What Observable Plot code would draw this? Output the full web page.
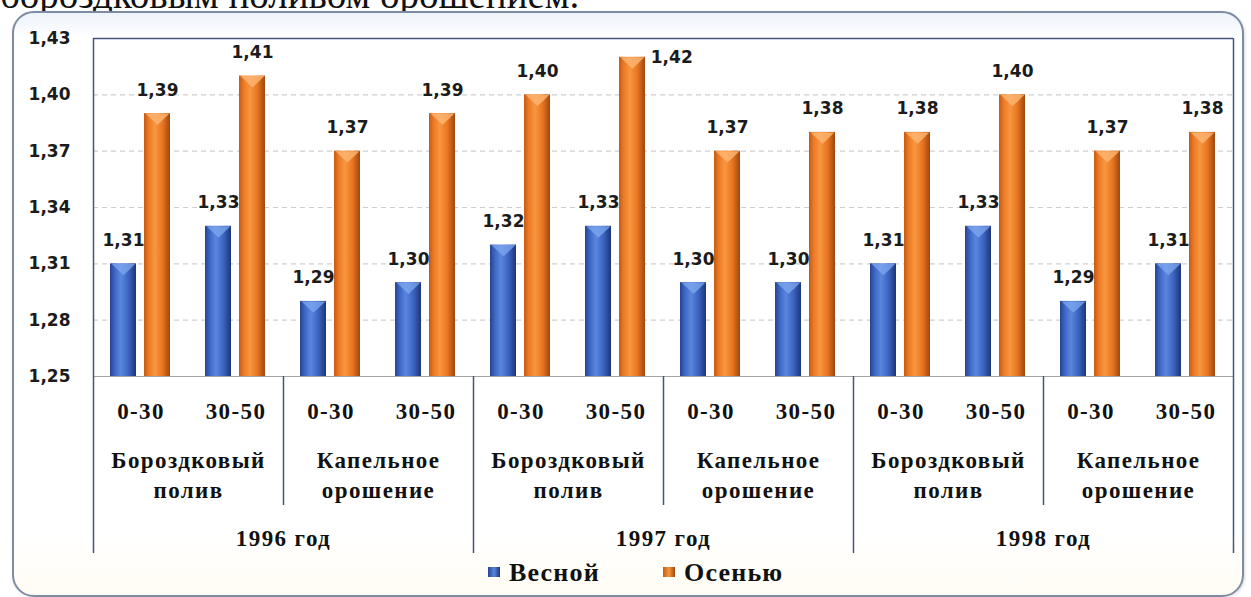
<!DOCTYPE html>
<html>
<head>
<meta charset="utf-8">
<script src="https://cdn.jsdelivr.net/npm/d3@7"></script>
<script src="https://cdn.jsdelivr.net/npm/@observablehq/plot@0.6"></script>
<style>
  html, body { margin: 0; padding: 0; background: #ffffff; }
  #page { position: relative; width: 1251px; height: 597px; overflow: hidden; background: #ffffff; }
  #toptext { position: absolute; left: 0; top: -25px; font-family: "Liberation Serif", "Times New Roman", Tinos, "DejaVu Serif", serif; font-size: 39px; line-height: 39px; color: #111; white-space: nowrap; }
  #box { position: absolute; left: 12px; top: 11px; width: 1228px; height: 582px; border: 2px solid #7d8ba3; border-radius: 22px;
         background: linear-gradient(#eef4fb 0px, #ffffff 26px, #ffffff 520px, #fffcf0 597px); box-shadow: 1px 1px 3px rgba(0,0,0,0.15); }
  #chart { position: absolute; left: 0; top: 0; }
  #legend { position: absolute; left: 0; top: 560px; width: 1251px; height: 30px; font-family: "Liberation Serif", "Times New Roman", Tinos, "DejaVu Serif", serif; font-weight: bold; font-size: 26px; line-height: 26px; color: #111; letter-spacing: 1.2px; }
  #legend .sw { display: inline-block; width: 12px; height: 10px; margin-right: 9px; margin-top: 7px; }
  #legend .item { position: absolute; top: 0; display: flex; align-items: flex-start; }
  g[font-family*="Serif"] text { letter-spacing: 1.4px; }
</style>
</head>
<body>
<div id="page">
  <div id="toptext">бороздковым поливом орошением.</div>
  <div id="box"></div>
  <div id="chart"></div>
  <div id="legend"></div>
</div>
<script>
// ---- data ----
const years = ["1996 год", "1997 год", "1998 год"];
const methods = ["Бороздковый\nполив", "Капельное\nорошение"];
const depths = ["0-30", "30-50"];
const seasons = ["Весной", "Осенью"];
const spring = [1.31, 1.33, 1.29, 1.30, 1.32, 1.33, 1.30, 1.30, 1.31, 1.33, 1.29, 1.31];
const autumn = [1.39, 1.41, 1.37, 1.39, 1.40, 1.42, 1.37, 1.38, 1.38, 1.40, 1.37, 1.38];
const yTicks = [1.25, 1.28, 1.31, 1.34, 1.37, 1.40, 1.43];

// ---- derived table ----
const rows = spring.map((v, i) => ({
  idx: i,
  year: years[Math.floor(i / (methods.length * depths.length))],
  method: methods[Math.floor(i / depths.length) % methods.length],
  depth: depths[i % depths.length],
  spring: v,
  autumn: autumn[i]
}));
const n = rows.length;
function groups(key) {
  const out = [];
  rows.forEach(r => {
    const k = key(r);
    const last = out[out.length - 1];
    if (last && last.key === k) last.end = r.idx + 1;
    else out.push({key: k, label: k.split("|").pop(), start: r.idx, end: r.idx + 1});
  });
  return out;
}
const methodGroups = groups(r => r.year + "|" + r.method);
const yearGroups = groups(r => r.year);
const methodBounds = methodGroups.map(g => g.start).filter(s => !yearGroups.some(y => y.start === s));
const yearBounds = yearGroups.map(g => g.start).filter(s => s > 0);

const fmt = v => d3.format(".2f")(v).replace(".", ",");
const yDom = [yTicks[0], yTicks[yTicks.length - 1]];
const yTop = yDom[1];

// ---- layout ----
const W = 1251, H = 560, mL = 93, mR = 18, mT = 38, mB = 184;
const frameH = H - mT - mB;

const serif = {fontFamily: "'Liberation Serif', 'Times New Roman', Tinos, 'DejaVu Serif', serif", fontWeight: "bold", fontSize: 23, fill: "#111"};
const sans = {fontFamily: "DejaVu Sans", fontWeight: "bold", fontSize: 17, fill: "#1b1b1b"};

const vSymbol = {draw(ctx, size) { const r = Math.sqrt(size / Math.PI); ctx.moveTo(-r, 0); ctx.lineTo(r, 0); ctx.lineTo(0, r * 0.95); ctx.closePath(); }};

const fits = v => yTop - v > 0.015;

const chart = Plot.plot({
  width: W, height: H, marginLeft: mL, marginRight: mR, marginTop: mT, marginBottom: mB,
  style: {background: "transparent", overflow: "visible"},
  x: {domain: [0, n], axis: null},
  y: {domain: yDom, axis: null},
  marks: [
    Plot.ruleY(yTicks.slice(1, -1), {stroke: "#cfcfcf", strokeWidth: 1.2, strokeDasharray: "5,4"}),
    // bars
    Plot.rectY(rows, {x1: d => d.idx, x2: d => d.idx + 0.5, y1: () => yDom[0], y2: "spring", fill: "url(#gBlue)", insetLeft: 17, insetRight: 4.5}),
    Plot.rectY(rows, {x1: d => d.idx + 0.5, x2: d => d.idx + 1, y1: () => yDom[0], y2: "autumn", fill: "url(#gOrange)", insetLeft: 3.5, insetRight: 18}),
    Plot.dot(rows, {x: d => d.idx + 0.25, y: "spring", dx: 6.25, symbol: vSymbol, r: 12, fill: "#7fa8f0", fillOpacity: 0.75, stroke: "none"}),
    Plot.dot(rows, {x: d => d.idx + 0.75, y: "autumn", dx: -7.25, symbol: vSymbol, r: 12, fill: "#fdb774", fillOpacity: 0.8, stroke: "none"}),
    // value labels
    Plot.text(rows, {x: d => d.idx + 0.25, y: "spring", text: d => fmt(d.spring), dx: 6.25, dy: -18, lineAnchor: "bottom", ...sans}),
    Plot.text(rows.filter(d => fits(d.autumn)), {x: d => d.idx + 0.75, y: "autumn", text: d => fmt(d.autumn), dx: -7.25, dy: -18, lineAnchor: "bottom", ...sans}),
    Plot.text(rows.filter(d => !fits(d.autumn)), {x: d => d.idx + 0.75, y: "autumn", text: d => fmt(d.autumn), dx: 32, dy: 6, lineAnchor: "bottom", ...sans}),
    // frame
    Plot.ruleY([yDom[0]], {stroke: "#a5a5a5", strokeWidth: 1.2}),
    Plot.ruleY([yDom[1]], {stroke: "#46557a", strokeWidth: 1.5}),
    Plot.ruleX([0, n], {stroke: "#46557a", strokeWidth: 1.5, insetBottom: -177}),
    Plot.ruleX(yearBounds, {stroke: "#46557a", strokeWidth: 1.5, insetTop: frameH, insetBottom: -177}),
    Plot.ruleX(methodBounds, {stroke: "#46557a", strokeWidth: 1.5, insetTop: frameH, insetBottom: -129}),
    // y axis
    Plot.axisY(yTicks, {tickSize: 0, tickPadding: 23, tickFormat: fmt, label: null, ...sans}),
    // category labels
    Plot.text(rows, {x: d => d.idx + 0.5, text: "depth", frameAnchor: "bottom", dy: 42, lineAnchor: "bottom", ...serif}),
    Plot.text(methodGroups, {x: g => (g.start + g.end) / 2, text: "label", frameAnchor: "bottom", dy: 121, lineAnchor: "bottom", lineHeight: 1.27, ...serif}),
    Plot.text(yearGroups, {x: g => (g.start + g.end) / 2, text: "label", frameAnchor: "bottom", dy: 169, lineAnchor: "bottom", ...serif})
  ]
});

// gradients for cylinder-like bars
const defs = d3.select(chart).insert("defs", ":first-child");
function grad(id, stops) {
  const g = defs.append("linearGradient").attr("id", id).attr("x1", "0%").attr("x2", "100%").attr("y1", "0%").attr("y2", "0%");
  stops.forEach(([o, c]) => g.append("stop").attr("offset", o).attr("stop-color", c));
}
grad("gBlue", [["0%", "#25448f"], ["18%", "#3d66c4"], ["42%", "#5a86de"], ["72%", "#3a62bf"], ["100%", "#1d3677"]]);
grad("gOrange", [["0%", "#c45a14"], ["18%", "#ec7a26"], ["42%", "#f8963f"], ["72%", "#e8741f"], ["100%", "#9c4710"]]);

document.getElementById("chart").appendChild(chart);

// legend
const legend = d3.select("#legend");
const swatches = ["linear-gradient(90deg,#25448f,#5a86de,#1d3677)", "linear-gradient(90deg,#c45a14,#f8963f,#9c4710)"];
const legendLeft = [488, 663];
seasons.forEach((s, i) => {
  const item = legend.append("div").attr("class", "item").style("left", legendLeft[i] + "px");
  item.append("span").attr("class", "sw").style("background", swatches[i]);
  item.append("span").text(s);
});
</script>
</body>
</html>
